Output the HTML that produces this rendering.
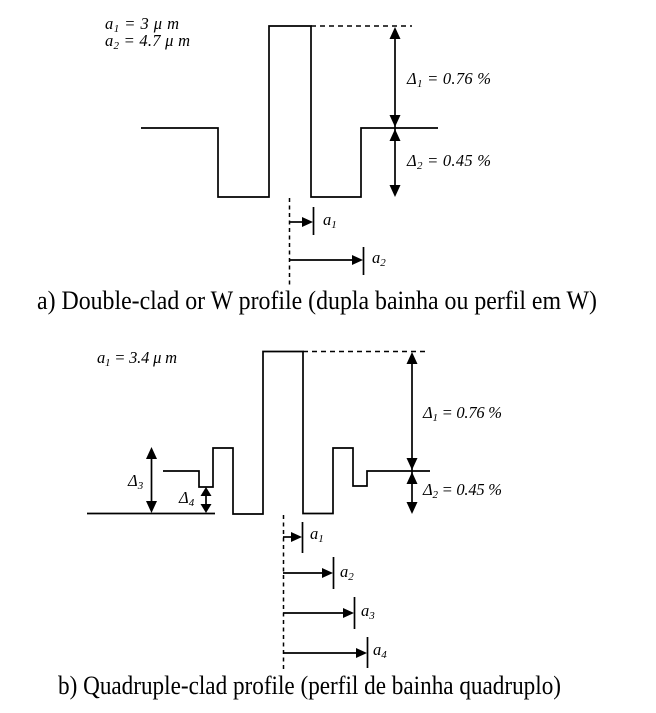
<!DOCTYPE html>
<html>
<head>
<meta charset="utf-8">
<style>
  html, body { margin: 0; padding: 0; background: #ffffff; }
  body { width: 656px; height: 713px; overflow: hidden; }
  svg { display: block; }
  .ln { stroke: #000; stroke-width: 1.7; fill: none; }
  .dash { stroke: #000; stroke-width: 1.5; fill: none; }
  .lbl { font-family: "Liberation Serif", "DejaVu Serif", serif; font-style: italic; font-size: 16.5px; fill: #000; }
  .cap { font-family: "Liberation Serif", "DejaVu Serif", serif; font-size: 26px; fill: #000; }
</style>
</head>
<body>
<svg width="656" height="713" viewBox="0 0 656 713" xmlns="http://www.w3.org/2000/svg">
  <!-- ============ PART A ============ -->
  <text class="lbl" x="105" y="29" textLength="74" lengthAdjust="spacing">a<tspan font-size="11" dy="3">1</tspan><tspan dy="-3"> = 3 μ m</tspan></text>
  <text class="lbl" x="105" y="46" textLength="85" lengthAdjust="spacing">a<tspan font-size="11" dy="3">2</tspan><tspan dy="-3"> = 4.7 μ m</tspan></text>

  <!-- profile -->
  <polyline class="ln" points="141,128 218,128 218,197 269,197 269,26 311,26 311,197 361,197 361,128 438,128"/>
  <line class="dash" x1="311" y1="26" x2="412" y2="26" stroke-dasharray="5,4"/>

  <!-- delta arrows -->
  <line class="ln" x1="395" y1="30" x2="395" y2="194"/>
  <polygon points="395,27 389.5,39 400.5,39"/>
  <polygon points="395,127 389.5,115 400.5,115"/>
  <polygon points="395,129 389.5,141 400.5,141"/>
  <polygon points="395,197 389.5,185 400.5,185"/>

  <text class="lbl" x="407" y="84" textLength="84" lengthAdjust="spacing">Δ<tspan font-size="11" dy="3">1</tspan><tspan dy="-3"> = 0.76 %</tspan></text>
  <text class="lbl" x="407" y="166" textLength="84" lengthAdjust="spacing">Δ<tspan font-size="11" dy="3">2</tspan><tspan dy="-3"> = 0.45 %</tspan></text>

  <!-- radius arrows -->
  <line class="dash" x1="289.5" y1="198" x2="289.5" y2="288" stroke-dasharray="4,3.5"/>
  <line class="ln" x1="289" y1="222" x2="304" y2="222"/>
  <polygon points="313,222 302,217 302,227"/>
  <line class="ln" x1="313.5" y1="207" x2="313.5" y2="235"/>
  <text class="lbl" x="323" y="225">a<tspan font-size="11" dy="3">1</tspan></text>

  <line class="ln" x1="289" y1="260" x2="354" y2="260"/>
  <polygon points="363,260 352,255 352,265"/>
  <line class="ln" x1="363.5" y1="247" x2="363.5" y2="275"/>
  <text class="lbl" x="372" y="263">a<tspan font-size="11" dy="3">2</tspan></text>

  <text class="cap" x="37" y="309" textLength="560" lengthAdjust="spacingAndGlyphs">a) Double-clad or W profile (dupla bainha ou perfil em W)</text>

  <!-- ============ PART B ============ -->
  <text class="lbl" x="97" y="363" textLength="80" lengthAdjust="spacing">a<tspan font-size="11" dy="3">1</tspan><tspan dy="-3"> = 3.4 μ m</tspan></text>

  <!-- baseline left -->
  <line class="ln" x1="87" y1="513.5" x2="215" y2="513.5"/>
  <!-- profile -->
  <polyline class="ln" points="163,471 199,471 199,487 213,487 213,448 233,448 233,514 263,514 263,351.5 303,351.5 303,513.5 333,513.5 333,448 353,448 353,486 367,486 367,471 430,471"/>
  <line class="dash" x1="303" y1="351.5" x2="426" y2="351.5" stroke-dasharray="5,4"/>

  <!-- delta 1/2 arrows -->
  <line class="ln" x1="412" y1="355" x2="412" y2="510"/>
  <polygon points="412,352 406.5,364 417.5,364"/>
  <polygon points="412,470 406.5,458 417.5,458"/>
  <polygon points="412,472 406.5,484 417.5,484"/>
  <polygon points="412,514 406.5,502 417.5,502"/>
  <text class="lbl" x="423" y="418" textLength="79" lengthAdjust="spacing">Δ<tspan font-size="11" dy="3">1</tspan><tspan dy="-3"> = 0.76 %</tspan></text>
  <text class="lbl" x="423" y="495" textLength="79" lengthAdjust="spacing">Δ<tspan font-size="11" dy="3">2</tspan><tspan dy="-3"> = 0.45 %</tspan></text>

  <!-- delta 3 arrow -->
  <line class="ln" x1="151.5" y1="450" x2="151.5" y2="510"/>
  <polygon points="151.5,447 146,459 157,459"/>
  <polygon points="151.5,513 146,501 157,501"/>
  <text class="lbl" x="128" y="486">Δ<tspan font-size="11" dy="3">3</tspan></text>

  <!-- delta 4 arrow -->
  <line class="ln" x1="206" y1="489" x2="206" y2="511"/>
  <polygon points="206,487 200.5,496 211.5,496"/>
  <polygon points="206,513 200.5,504 211.5,504"/>
  <text class="lbl" x="179" y="503">Δ<tspan font-size="11" dy="3">4</tspan></text>

  <!-- radius arrows -->
  <line class="dash" x1="283.5" y1="515" x2="283.5" y2="670" stroke-dasharray="4,3.5"/>

  <line class="ln" x1="283" y1="537" x2="293" y2="537"/>
  <polygon points="302,537 291,532 291,542"/>
  <line class="ln" x1="302.5" y1="522" x2="302.5" y2="553"/>
  <text class="lbl" x="310" y="539">a<tspan font-size="11" dy="3">1</tspan></text>

  <line class="ln" x1="283" y1="573" x2="324" y2="573"/>
  <polygon points="333,573 322,568 322,578"/>
  <line class="ln" x1="333.5" y1="557" x2="333.5" y2="589"/>
  <text class="lbl" x="340" y="577">a<tspan font-size="11" dy="3">2</tspan></text>

  <line class="ln" x1="283" y1="613" x2="345" y2="613"/>
  <polygon points="354,613 343,608 343,618"/>
  <line class="ln" x1="354.5" y1="597" x2="354.5" y2="629"/>
  <text class="lbl" x="361" y="616">a<tspan font-size="11" dy="3">3</tspan></text>

  <line class="ln" x1="283" y1="653" x2="358" y2="653"/>
  <polygon points="367,653 356,648 356,658"/>
  <line class="ln" x1="367.5" y1="637" x2="367.5" y2="668"/>
  <text class="lbl" x="373" y="655">a<tspan font-size="11" dy="3">4</tspan></text>

  <text class="cap" x="58" y="694" textLength="503" lengthAdjust="spacingAndGlyphs">b) Quadruple-clad profile (perfil de bainha quadruplo)</text>
</svg>
</body>
</html>
